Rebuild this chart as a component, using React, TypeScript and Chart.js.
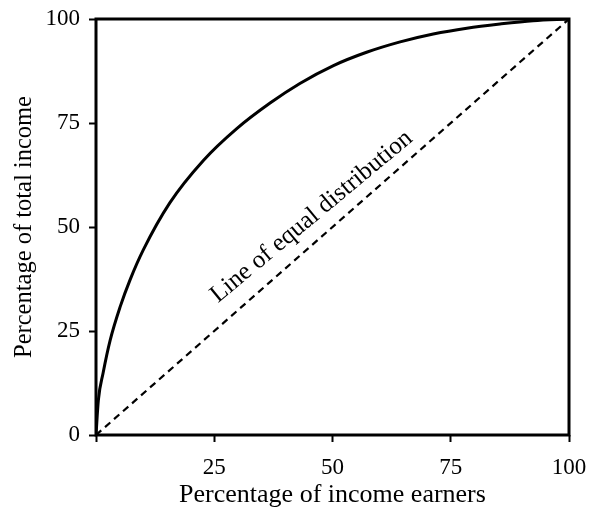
import React, { useEffect, useRef } from "react";
import { Chart, registerables } from "chart.js";

Chart.register(...registerables);

// Lorenz curve
const earnersPct = [0, 0.5, 1.5, 3, 5.1, 7.2, 10, 15.6, 22.7, 29.7, 36.8, 43.1, 50.2, 57.2, 64.3, 71.3, 78.4, 85.4, 92.4, 100];
const incomePct = [0, 8.4, 14.9, 22.8, 30.8, 37.3, 44.5, 55.8, 66.0, 73.6, 79.8, 84.5, 88.8, 92.0, 94.5, 96.4, 97.8, 98.8, 99.6, 100];
// Line of equal distribution
const equalX = [0, 100];
const equalY = [0, 100];
const tickValues = [0, 25, 50, 75, 100];

const xTitle = "Percentage of income earners";
const yTitle = "Percentage of total income";
const equalLabel = "Line of equal distribution";

const FONT = "'Liberation Serif', 'Times New Roman', serif";

const framePlugin = {
  id: "frame",
  beforeDatasetsDraw(chart: any) {
    const { ctx, chartArea } = chart;
    ctx.save();
    ctx.strokeStyle = "#000";
    ctx.lineWidth = 3;
    ctx.strokeRect(chartArea.left, chartArea.top, chartArea.right - chartArea.left, chartArea.bottom - chartArea.top);
    ctx.restore();
  },
};

const labelPlugin = {
  id: "equalLabel",
  afterDatasetsDraw(chart: any) {
    const { ctx } = chart;
    const xs = chart.scales.x;
    const ys = chart.scales.y;
    const x0 = xs.getPixelForValue(equalX[0]);
    const y0 = ys.getPixelForValue(equalY[0]);
    const x1 = xs.getPixelForValue(equalX[1]);
    const y1 = ys.getPixelForValue(equalY[1]);
    const ang = Math.atan2(y1 - y0, x1 - x0);
    const at = 48.5;
    const px = xs.getPixelForValue(at);
    const py = ys.getPixelForValue(at);
    ctx.save();
    ctx.translate(px, py);
    ctx.rotate(ang + 0.027);
    ctx.font = `25px ${FONT}`;
    ctx.fillStyle = "#000";
    ctx.textAlign = "center";
    ctx.textBaseline = "alphabetic";
    ctx.fillText(equalLabel, 0, -15);
    ctx.restore();
  },
};

export default function App() {
  const ref = useRef<HTMLCanvasElement | null>(null);
  useEffect(() => {
    if (!ref.current) return;
    const chart = new Chart(ref.current, {
      type: "scatter",
      data: {
        datasets: [
          {
            data: earnersPct.map((x, i) => ({ x, y: incomePct[i] })),
            showLine: true,
            borderColor: "#000",
            borderWidth: 3,
            pointRadius: 0,
            cubicInterpolationMode: "monotone",
            fill: false,
          } as any,
          {
            data: equalX.map((x, i) => ({ x, y: equalY[i] })),
            showLine: true,
            borderColor: "#000",
            borderWidth: 2.2,
            borderDash: [7, 5],
            pointRadius: 0,
            fill: false,
          } as any,
        ],
      },
      options: {
        animation: false,
        responsive: true,
        maintainAspectRatio: false,
        layout: { padding: { left: 0, right: 20, top: 19, bottom: 0 } },
        plugins: { legend: { display: false }, tooltip: { enabled: false } },
        scales: {
          x: {
            type: "linear",
            min: 0,
            max: 100,
            afterFit: (s: any) => {
              s.height = 75;
              s.paddingLeft = 0;
              s.paddingRight = 0;
            },
            afterBuildTicks: (s: any) => { s.ticks = tickValues.map((v) => ({ value: v })); },
            ticks: {
              color: "#000",
              font: { family: FONT, size: 23 },
              padding: 12,
              callback: (v: any) => (v === 0 ? "" : String(v)),
            },
            grid: { drawOnChartArea: false, drawTicks: true, tickLength: 7, tickWidth: 2, tickColor: "#000" },
            border: { display: false },
            title: { display: true, text: xTitle, color: "#000", font: { family: FONT, size: 26 }, padding: { top: 0, bottom: -1 } },
          },
          y: {
            type: "linear",
            min: 0,
            max: 100,
            afterFit: (s: any) => {
              s.width = 96;
              s.paddingTop = 0;
              s.paddingBottom = 0;
            },
            afterBuildTicks: (s: any) => { s.ticks = tickValues.map((v) => ({ value: v })); },
            ticks: {
              color: "#000",
              font: { family: FONT, size: 23 },
              padding: 9,
            },
            grid: { drawOnChartArea: false, drawTicks: true, tickLength: 7, tickWidth: 2, tickColor: "#000" },
            border: { display: false },
            title: { display: true, text: yTitle, color: "#000", font: { family: FONT, size: 24.5 }, padding: { top: 10, bottom: 0 } },
          },
        },
      },
      plugins: [framePlugin, labelPlugin],
    });
    return () => chart.destroy();
  }, []);
  return (
    <div style={{ position: "absolute", left: 0, top: 0, width: 589, height: 510, background: "#fff" }}>
      <canvas ref={ref} />
    </div>
  );
}
